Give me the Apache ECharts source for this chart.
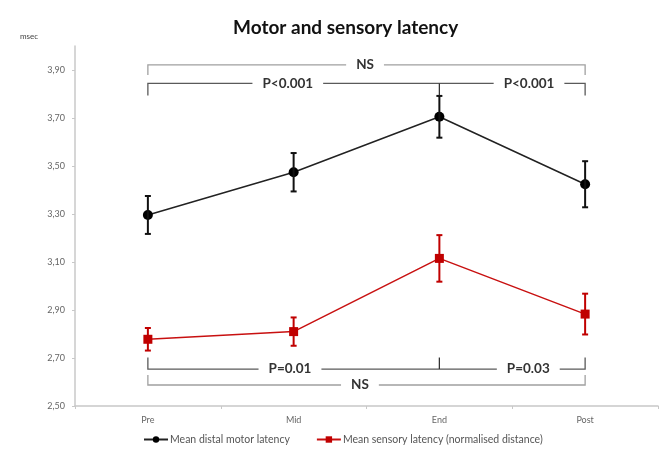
<!DOCTYPE html>
<html>
<head>
<meta charset="utf-8">
<script src="https://cdn.jsdelivr.net/npm/echarts@6/dist/echarts.min.js"></script>
<style>
  html, body { margin: 0; padding: 0; background: #fff; }
  #chart { width: 664px; height: 451px; }
</style>
</head>
<body>
<div id="chart"></div>
<script>
// Measurement phases
const categories = ['Pre', 'Mid', 'End', 'Post'];

// Mean distal motor latency (msec) and its error half-width
const motorMean = [3.296, 3.474, 3.705, 3.424];
const motorErr  = [0.079, 0.080, 0.087, 0.096];

// Mean sensory latency, normalised distance (msec) and its error half-width
const sensoryMean = [2.778, 2.810, 3.115, 2.883];
const sensoryErr  = [0.047, 0.059, 0.097, 0.085];

// Labelled y ticks
const yTickValues = [2.5, 2.7, 2.9, 3.1, 3.3, 3.5, 3.7, 3.9];

// Significance brackets: span in category indices, bar level, tip level,
// optional middle drop, and labels placed at fractional category positions
const bracketTopNS   = { from: 0, to: 3, level: 3.921, tip: 3.879, drops: [], labels: [['NS', 1.49]], color: '#a0a0a0' };
const bracketTopP    = { from: 0, to: 3, level: 3.844, tip: 3.794, drops: [2], labels: [['P<0.001', 0.96], ['P<0.001', 2.615]], color: '#5a5a5a' };
const bracketBottomP = { from: 0, to: 3, level: 2.654, tip: 2.702, drops: [2], labels: [['P=0.01', 0.975], ['P=0.03', 2.61]], color: '#5a5a5a' };
const bracketBottomNS= { from: 0, to: 3, level: 2.5875, tip: 2.629, drops: [], labels: [['NS', 1.455]], color: '#a0a0a0' };
const brackets = [bracketTopNS, bracketTopP, bracketBottomP, bracketBottomNS];

const FONT = 'Lato, "Open Sans", "Liberation Sans", sans-serif';

function errorData(means, errs) {
  return means.map((m, i) => [i, m - errs[i], m + errs[i]]);
}

function errorBarRenderer(color) {
  return function (params, api) {
    const x = api.value(0);
    const lo = api.coord([x, api.value(1)]);
    const hi = api.coord([x, api.value(2)]);
    const cap = 3;
    const style = { stroke: color, lineWidth: 2 };
    return {
      type: 'group',
      children: [
        { type: 'line', shape: { x1: lo[0], y1: lo[1], x2: hi[0], y2: hi[1] }, style },
        { type: 'line', shape: { x1: lo[0] - cap, y1: lo[1], x2: lo[0] + cap, y2: lo[1] }, style },
        { type: 'line', shape: { x1: hi[0] - cap, y1: hi[1], x2: hi[0] + cap, y2: hi[1] }, style }
      ]
    };
  };
}

function bracketRenderer(params, api) {
  const b = brackets[params.dataIndex];
  const pA = api.coord([b.from, b.level]);
  const pB = api.coord([b.to, b.level]);
  const tA = api.coord([b.from, b.tip]);
  const tB = api.coord([b.to, b.tip]);
  const c0 = api.coord([0, b.level]);
  const c1 = api.coord([1, b.level]);
  const step = c1[0] - c0[0];
  const style = { stroke: b.color, lineWidth: 1.3, fill: null };
  const children = [
    { type: 'polyline', shape: { points: [[tA[0], tA[1]], [pA[0], pA[1]], [pB[0], pB[1]], [tB[0], tB[1]]] }, style }
  ];
  b.drops.forEach(d => {
    const p = api.coord([d, b.level]);
    const q = api.coord([d, b.tip]);
    children.push({ type: 'line', shape: { x1: p[0], y1: p[1], x2: q[0], y2: q[1] }, style: { stroke: '#333', lineWidth: 1.3 } });
  });
  b.labels.forEach(([txt, pos]) => {
    children.push({
      type: 'text',
      x: c0[0] + pos * step,
      y: pA[1],
      style: {
        text: txt,
        fill: '#333',
        font: 'bold 13.5px ' + FONT,
        align: 'center',
        verticalAlign: 'middle',
        backgroundColor: '#fff',
        padding: [0, 10]
      }
    });
  });
  return { type: 'group', children };
}

const chart = echarts.init(document.getElementById('chart'), null, { renderer: 'canvas' });

chart.setOption({
  animation: false,
  backgroundColor: '#fff',
  title: {
    text: 'Motor and sensory latency',
    left: 228,
    top: 13,
    textStyle: { fontFamily: FONT, fontSize: 19, fontWeight: 'bold', color: '#111' }
  },
  graphic: [{
    type: 'text',
    left: 20,
    top: 32,
    style: { text: 'msec', font: '8px ' + FONT, fill: '#444' }
  }],
  legend: {
    left: 138,
    top: 429,
    itemGap: 26,
    itemWidth: 24,
    itemHeight: 8,
    textStyle: { fontFamily: FONT, fontSize: 10.5, color: '#555', padding: [0, 0, 0, -3] },
    data: ['Mean distal motor latency', 'Mean sensory latency (normalised distance)']
  },
  grid: { left: 75, right: 6, top: 46, bottom: 45, containLabel: false },
  xAxis: {
    type: 'category',
    data: categories,
    boundaryGap: true,
    axisLine: { lineStyle: { color: '#c8c8c8', width: 1.5 } },
    axisTick: { show: true, length: 3, lineStyle: { color: '#c8c8c8' } },
    axisLabel: { fontFamily: FONT, fontSize: 9, color: '#666', margin: 10 }
  },
  yAxis: {
    type: 'value',
    min: 2.5,
    max: 4.0,
    interval: 0.2,
    splitLine: { show: false },
    axisLine: { show: true, lineStyle: { color: '#c8c8c8', width: 1.5 } },
    axisTick: { show: true, length: 3, lineStyle: { color: '#c8c8c8' }, customValues: yTickValues },
    axisLabel: {
      fontFamily: FONT, fontSize: 9, color: '#666', margin: 10,
      customValues: yTickValues,
      formatter: v => v.toFixed(2).replace('.', ',')
    }
  },
  series: [
    {
      name: 'Mean distal motor latency',
      type: 'line',
      data: motorMean,
      symbol: 'circle',
      symbolSize: 10,
      itemStyle: { color: '#000' },
      lineStyle: { color: '#222', width: 1.5 },
      z: 3
    },
    {
      name: 'Mean sensory latency (normalised distance)',
      type: 'line',
      data: sensoryMean,
      symbol: 'rect',
      symbolSize: 9,
      itemStyle: { color: '#c00000' },
      lineStyle: { color: '#c81010', width: 1.5 },
      z: 3
    },
    {
      type: 'custom',
      data: errorData(motorMean, motorErr),
      renderItem: errorBarRenderer('#111'),
      z: 4,
      silent: true
    },
    {
      type: 'custom',
      data: errorData(sensoryMean, sensoryErr),
      renderItem: errorBarRenderer('#c00000'),
      z: 4,
      silent: true
    },
    {
      type: 'custom',
      data: brackets.map((b, i) => [i, b.level]),
      renderItem: bracketRenderer,
      z: 5,
      silent: true
    }
  ]
});
</script>
</body>
</html>
